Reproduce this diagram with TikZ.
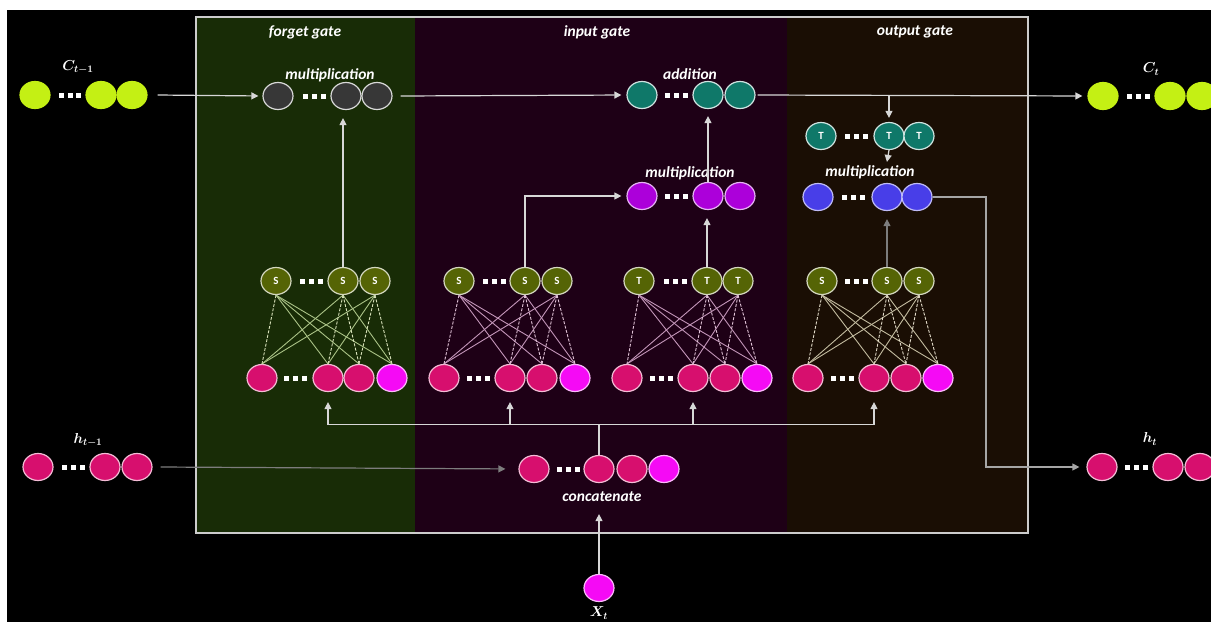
\documentclass[tikz,border=0pt]{standalone}
\usepackage{fontspec}
\setmainfont{Carlito}
\usetikzlibrary{arrows.meta,shapes.geometric,calc}
\definecolor{limec}{RGB}{196,240,20}
\definecolor{grayc}{RGB}{55,55,55}
\definecolor{tealc}{RGB}{15,120,105}
\definecolor{purpc}{RGB}{172,0,218}
\definecolor{bluec}{RGB}{72,62,232}
\definecolor{pinkc}{RGB}{215,15,110}
\definecolor{magc}{RGB}{245,10,245}
\definecolor{olivc}{RGB}{85,100,5}
\definecolor{greenbg}{RGB}{24,44,6}
\definecolor{purpbg}{RGB}{30,0,22}
\definecolor{brownbg}{RGB}{26,14,4}
\definecolor{linec}{RGB}{215,215,215}
\definecolor{dimc}{RGB}{125,125,125}
\definecolor{midc}{RGB}{165,165,165}
\definecolor{fsol}{RGB}{170,195,135}
\definecolor{fdsh}{RGB}{215,225,185}
\definecolor{isol}{RGB}{195,150,185}
\definecolor{idsh}{RGB}{225,195,215}
\definecolor{osol}{RGB}{195,188,160}
\definecolor{odsh}{RGB}{225,218,200}
\newcommand\dotsq{\rule{5pt}{5pt}\hspace{4pt}\rule{5pt}{5pt}\hspace{4pt}\rule{5pt}{5pt}}
\begin{document}
\begin{tikzpicture}[x=1pt,y=-1pt,
  neuron/.style={ellipse, minimum width=30pt, minimum height=27pt, inner sep=0pt, line width=1.2pt},
  limen/.style={neuron, fill=limec, draw=limec},
  grayn/.style={neuron, fill=grayc, draw=white!85!black},
  tealn/.style={neuron, fill=tealc, draw=white!80!tealc},
  purpn/.style={neuron, fill=purpc, draw=white!70!purpc},
  bluen/.style={neuron, fill=bluec, draw=white!65!bluec},
  pinkn/.style={neuron, fill=pinkc, draw=white!72!pinkc},
  magn/.style={neuron, fill=magc, draw=white!72!magc},
  oliven/.style={neuron, fill=olivc, draw=white!75!olivc, text=white, font=\fontsize{11}{13}\selectfont\bfseries},
  ellip/.style={text=white, inner sep=0pt},
  lbl/.style={text=white, inner sep=0pt, font=\fontsize{15.5}{18}\selectfont\bfseries\itshape},
  mlbl/.style={text=white, inner sep=0pt, font=\Large\boldmath},
  arr/.style={draw=linec, line width=1.2pt, -{Triangle[width=7pt,length=7pt]}},
  ln/.style={draw=linec, line width=1.2pt},
]
\useasboundingbox (0,0) rectangle (1211,622);
\fill[white] (0,0) rectangle (1211,622);
\fill[black] (7,10) rectangle (1211,622);
% gate panels
\fill[greenbg] (196,17) rectangle (415,533);
\fill[purpbg] (415,17) rectangle (787,533);
\fill[brownbg] (787,17) rectangle (1028,533);
\draw[draw=white!80!black, line width=1.3pt] (196,17) rectangle (1028,533);
\node[lbl] (tf) at (305,32) {forget gate};
\node[lbl] (ti) at (597,32) {input gate};
\node[lbl] (to) at (915,32) {output gate};

% C_{t-1}
\foreach \n/\x in {1/35,2/101,3/132} \node[limen] (cp\n) at (\x,95) {};
\node[ellip] (cpd) at (70,95) {\dotsq};
\node[mlbl] (cpl) at (78,67) {$C_{t-1}$};
% forget multiplication
\foreach \n/\x in {1/278,2/346,3/377} \node[grayn] (fm\n) at (\x,96) {};
\node[ellip] (fmd) at (314,96) {\dotsq};
\node[lbl] (fml) at (330,75) {multiplication};
% addition
\foreach \n/\x in {1/642,2/708,3/740} \node[tealn] (ad\n) at (\x,95) {};
\node[ellip] (add) at (676,95) {\dotsq};
\node[lbl] (adl) at (690,74) {addition};
% C_t
\foreach \n/\x in {1/1103,2/1170,3/1202} \node[limen] (ct\n) at (\x,96) {};
\node[ellip] (ctd) at (1138,96) {\dotsq};
\node[mlbl] (ctl) at (1151,69) {$C_{t}$};
% tanh of C_t
\foreach \n/\x in {1/821,2/889,3/919} \node[tealn, text=white, font=\fontsize{11}{13}\selectfont\bfseries] (tt\n) at (\x,136) {T};
\node[ellip] (ttd) at (856,136) {\dotsq};
% output multiplication
\foreach \n/\x in {1/818,2/887,3/917} \node[bluen] (om\n) at (\x,197) {};
\node[ellip] (omd) at (853,197) {\dotsq};
\node[lbl] (oml) at (870,172) {multiplication};
% input multiplication
\foreach \n/\x in {1/642,2/708,3/740} \node[purpn] (im\n) at (\x,196) {};
\node[ellip] (imd) at (676,196) {\dotsq};
\node[lbl] (iml) at (690,173) {multiplication};

% gate layers
\foreach \pp/\L/\a/\b/\c/\d in {f/S/276/343/375/311, i/S/459/525/557/494, g/T/639/707/738/675, o/S/822/887/919/856}{
  \node[oliven] (\pp S1) at (\a,281) {\L};
  \node[oliven] (\pp S2) at (\b,281) {\L};
  \node[oliven] (\pp S3) at (\c,281) {\L};
  \node[ellip] (\pp Sd) at (\d,281) {\dotsq};
}
\foreach \pp/\a/\b/\c/\e/\d in {f/262/328/359/392/295, i/444/510/542/575/478, g/627/693/725/757/661, o/808/874/906/938/842}{
  \node[pinkn] (\pp B1) at (\a,378) {};
  \node[pinkn] (\pp B2) at (\b,378) {};
  \node[pinkn] (\pp B3) at (\c,378) {};
  \node[magn] (\pp B4) at (\e,378) {};
  \node[ellip] (\pp Bd) at (\d,378) {\dotsq};
}
\foreach \pp/\cs/\cd in {f/fsol/fdsh, i/isol/idsh, g/isol/idsh, o/osol/odsh}{
  \foreach \i/\j in {1/2,1/3,1/4,2/1,2/4,3/1,3/2}
    \draw[\cs, line width=0.9pt] (\pp S\i.south) -- (\pp B\j.north);
  \foreach \i/\j in {1/1,2/2,2/3,3/3,3/4}
    \draw[\cd, line width=0.9pt, dash pattern=on 3pt off 1.5pt] (\pp S\i.south) -- (\pp B\j.north);
}

% concatenate
\foreach \n/\x in {1/534,2/599,3/632} \node[pinkn] (cc\n) at (\x,469) {};
\node[magn] (cc4) at (664,469) {};
\node[ellip] (ccd) at (568,469) {\dotsq};
\node[lbl] (ccl) at (602,497) {concatenate};
% h_{t-1}
\foreach \n/\x in {1/38,2/105,3/137} \node[pinkn] (hp\n) at (\x,467) {};
\node[ellip] (hpd) at (73,467) {\dotsq};
\node[mlbl] (hpl) at (88,440) {$h_{t-1}$};
% h_t
\foreach \n/\x in {1/1102,2/1168,3/1200} \node[pinkn] (ht\n) at (\x,467) {};
\node[ellip] (htd) at (1136,467) {\dotsq};
\node[mlbl] (htl) at (1150,439) {$h_{t}$};
% X_t
\node[magn] (xt) at (599,588) {};
\node[mlbl] (xtl) at (599,613) {$X_{t}$};

% connectors
\coordinate (cpo) at ($(cp3.east)+(10,0)$);
\draw[arr, shorten >=4pt] (cpo) -- (fm1.west);
\coordinate (fmo) at ($(fm3.east)+(8,0)$);
\draw[arr, shorten >=5pt] (fmo) -- (ad1.west);
\coordinate (ado) at ($(ad3.east)+(2,0)$);
\draw[arr, shorten >=5pt] (ado) -- (ct1.west);
\coordinate (br) at (tt2.north |- ado);
\draw[arr, shorten >=4pt] (br) -- (tt2.north);
\draw[arr] (tt2.south) -- ($(om2.north)+(0,-21)$);
\draw[arr, shorten >=7pt] (im2.north) -- (ad2.south);
\draw[arr, shorten >=8pt] (fS2.north) -- (fS2.north |- fm2.south);
\draw[arr, shorten >=5pt] (iS2.north) |- (im1.west);
\draw[arr, shorten >=8pt] (gS2.north) -- (gS2.north |- im2.south);
\draw[arr, draw=dimc, shorten >=8pt] (oS2.north) -- (oS2.north |- om2.south);
% output h_t
\coordinate (hk) at (986,197);
\draw[arr, draw=midc, shorten >=7pt] (om3.east) -- (hk) |- (ht1.west);
% bus
\coordinate (bus) at ($(cc2.north)+(0,-30.5)$);
\draw[ln] (cc2.north) -- (bus);
\draw[arr, shorten >=10pt] (bus) -| (fB2.south);
\draw[arr, shorten >=10pt] (bus) -| (oB2.south);
\draw[arr, shorten >=10pt] (iB2.south |- bus) -- (iB2.south);
\draw[arr, shorten >=10pt] (gB2.south |- bus) -- (gB2.south);
% h_{t-1} to concat
\coordinate (hpo) at ($(hp3.east)+(8,0)$);
\draw[arr, draw=dimc, shorten >=13pt] (hpo) -- (cc1.west);
% X_t up
\draw[arr] (xt.north) -- ($(cc2.south)+(0,31)$);
\end{tikzpicture}
\end{document}
